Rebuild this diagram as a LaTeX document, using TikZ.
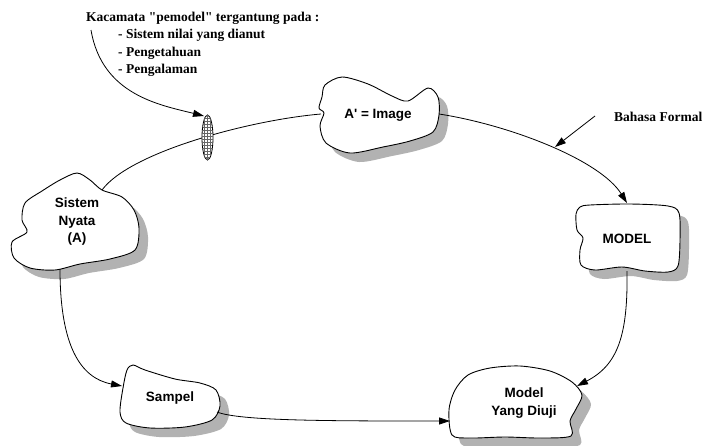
\documentclass[tikz,border=0pt]{standalone}
\usepackage{fontspec}
\setmainfont{Liberation Serif}[Ligatures=TeXOff]
\setsansfont{Liberation Sans}[Ligatures=TeXOff]
\usetikzlibrary{arrows.meta,patterns}

\tikzset{
  blobline/.style={draw=black, fill=white, line width=0.9pt},
  blobshadow/.style={fill=black!30, shift={(9,9)}},
  blobtext/.style={font=\sffamily\bfseries\fontsize{13.5}{17.5}\selectfont, align=center},
  notetext/.style={font=\rmfamily\bfseries\fontsize{13.5}{17.5}\selectfont, anchor=base west, inner sep=0pt},
  link/.style={line width=0.8pt, -{Triangle[length=11pt,width=7pt]}},
  plainlink/.style={line width=0.8pt}
}

% awan dengan bayangan
\newcommand\awan[1]{%
  \fill[blobshadow] plot[smooth cycle] coordinates {#1};
  \draw[blobline] plot[smooth cycle] coordinates {#1};}

\begin{document}
\begin{tikzpicture}[x=1pt,y=-1pt]
\useasboundingbox (0,0) rectangle (704,445);

% bentuk-bentuk
\awan{(77,173) (90,180) (102,190) (122,197) (134,210) (139,228) (135,250) (110,259) (80,264) (55,270) (30,268) (14,258) (12,242) (27,232) (22,220) (25,203) (42,191) (60,180)}
\awan{(325,85) (342,77) (368,84) (392,96) (408,101) (428,88) (438,97) (439,115) (433,132) (410,141) (383,147) (350,153) (326,143) (320,126) (324,113) (319,108) (322,97)}
\awan{(590,205) (630,204) (668,206) (679,213) (680,240) (678,266) (668,272) (645,271) (622,267) (595,270) (581,265) (580,250) (583,238) (577,230) (576,214) (580,207)}
\awan{(133,365) (145,370) (175,379) (200,383) (216,390) (220,406) (212,420) (185,427) (150,428) (126,423) (120,412) (123,388) (127,370)}
\awan{(468,375) (490,368) (520,366) (550,371) (572,382) (582,395) (576,409) (570,421) (571,436) (540,438) (505,437) (470,438) (452,435) (449,410) (455,390)}

\node[blobtext] (sistem) at (77,222) {Sistem\\Nyata\\(A)};
\node[blobtext] (image) at (378,115) {A' = Image};
\node[blobtext] (model) at (627,239) {MODEL};
\node[blobtext] (sampel) at (170,398) {Sampel};
\node[blobtext] (diuji) at (524,403) {Model\\Yang Diuji};

\node[notetext] (kacamata) at (86,21) {Kacamata "pemodel" tergantung pada :};
\node[notetext] (nilai) at (118,38.5) {- Sistem nilai yang dianut};
\node[notetext] (tahu) at (118,56) {- Pengetahuan};
\node[notetext] (alami) at (118,73.5) {- Pengalaman};
\node[notetext] (bahasa) at (614,121.7) {Bahasa Formal};

% titik sambung
\coordinate (sisA) at (102,190);
\coordinate (sisB) at (60,269);
\coordinate (imgW) at (321,114);
\coordinate (imgE) at (439,114);
\coordinate (modN) at (627,203);
\coordinate (modS) at (627,271);
\coordinate (samW) at (122,386);
\coordinate (samE) at (217,412);
\coordinate (ujiW) at (450,421);
\coordinate (ujiNE) at (577,386);
\coordinate (kacaStart) at (91,30);
\coordinate (lensTop) at (204,116);
\coordinate (formalStart) at (595,116);
\coordinate (formalTip) at (555,147);

% penghubung
\draw[plainlink] (sisA) .. controls (130,152) and (250,120) .. (imgW);
\draw[link] (imgE) .. controls (510,125) and (600,160) .. (modN);
\draw[link] (modS) .. controls (628,335) and (618,365) .. (ujiNE);
\draw[link] (sisB) .. controls (60,345) and (80,378) .. (samW);
\draw[link] (samE) .. controls (240,421) and (330,421) .. (ujiW);
\draw[link] (formalStart) -- (formalTip);

% lensa
\draw[line width=0.8pt, fill=white, postaction={pattern=grid, pattern color=black!60}]
  (207.5,137.5) ellipse [x radius=5.5, y radius=22.5];
\draw[link] (kacaStart) .. controls (102,95) and (160,105) .. (lensTop);

\end{tikzpicture}
\end{document}
